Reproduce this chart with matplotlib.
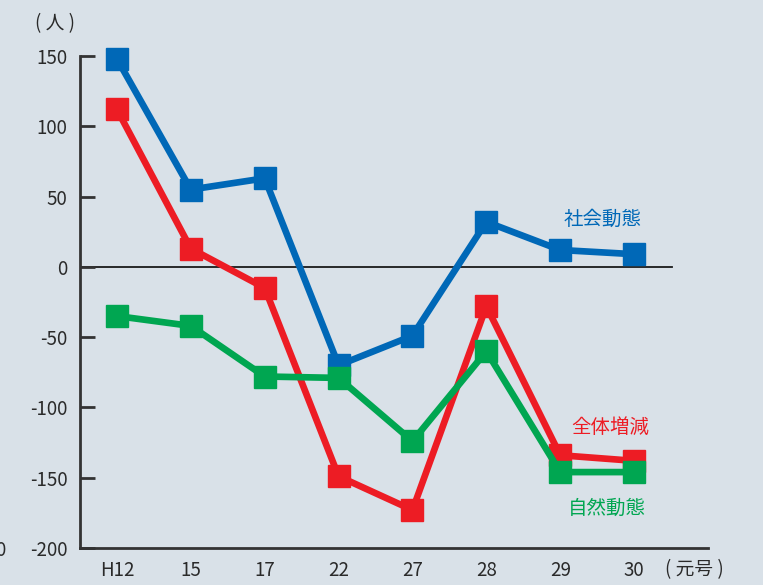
import matplotlib
matplotlib.use("Agg")
import matplotlib.pyplot as plt

plt.rcParams['font.family'] = ['Noto Sans CJK JP', 'DejaVu Sans']
plt.rcParams['axes.unicode_minus'] = False

# data
years = ["H12", "15", "17", "22", "27", "28", "29", "30"]
social = [148, 55, 63, -70, -49, 32, 12, 9]
total = [112, 13, -15, -149, -173, -28, -134, -138]
natural = [-35, -42, -78, -79, -124, -60, -146, -146]

bg = "#d9e1e8"
c_blue = "#0068b7"
c_red = "#ed1c24"
c_green = "#00a651"
c_axis = "#333333"
c_text = "#2a2a2a"

fig = plt.figure(figsize=(7.63, 5.85), dpi=100, facecolor=bg)
ax = fig.add_axes([80 / 763, 1 - 548 / 585, 628 / 763, 492 / 585])
ax.set_facecolor(bg)

x = list(range(len(years)))

# zero line
ax.plot([-0.5, 7.51], [0, 0], color="#1a1a1a", lw=1.3, zorder=1)

for vals, col in [(social, c_blue), (total, c_red), (natural, c_green)]:
    ax.plot(x, vals, color=col, lw=4.8, marker="s", markersize=15.5,
            solid_joinstyle="miter", zorder=3, clip_on=False)

ax.set_xlim(-0.5, 8.0)
ax.set_ylim(-200, 150)
ax.set_yticks([150, 100, 50, 0, -50, -100, -150, -200])
ax.set_xticks(x)
ax.set_xticklabels(years)

for s in ["top", "right"]:
    ax.spines[s].set_visible(False)
for s in ["left", "bottom"]:
    ax.spines[s].set_color(c_axis)
    ax.spines[s].set_linewidth(2)

ax.tick_params(axis="y", direction="in", length=11, width=2, color=c_axis,
               labelsize=13.5, labelcolor=c_text, pad=9)
ax.tick_params(axis="x", length=0, labelsize=13.5, labelcolor=c_text, pad=9)

fig.text(55 / 763, 1 - 24 / 585, "( 人 )", ha="center", va="center",
         fontsize=13.5, color=c_text)
fig.text(694 / 763, 1 - 570 / 585, "( 元号 )", ha="center", va="center",
         fontsize=13.5, color=c_text)
fig.text(-5 / 763, 1 - 551 / 585, "0", ha="left", va="center",
         fontsize=13.5, color=c_text)

fig.text(603 / 763, 1 - 219 / 585, "社会動態", ha="center", va="center",
         fontsize=14, color=c_blue)
fig.text(610 / 763, 1 - 427 / 585, "全体増減", ha="center", va="center",
         fontsize=14, color=c_red)
fig.text(607 / 763, 1 - 508 / 585, "自然動態", ha="center", va="center",
         fontsize=14, color=c_green)

fig.savefig("out.png", dpi=100, facecolor=bg)
